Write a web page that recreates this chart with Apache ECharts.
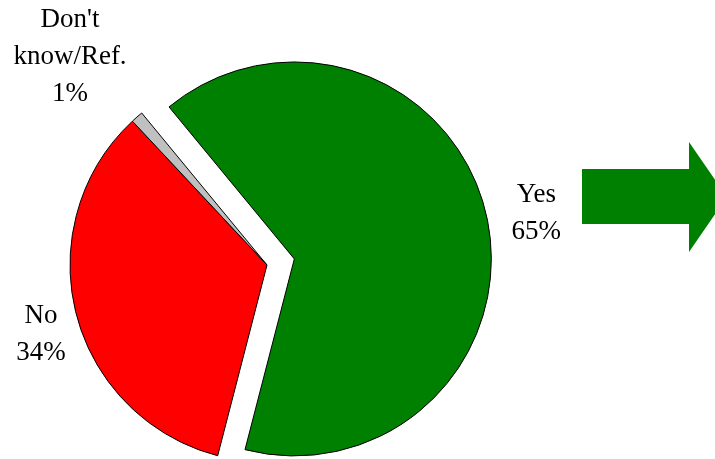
<!DOCTYPE html>
<html>
<head>
<meta charset="utf-8">
<script src="https://cdn.jsdelivr.net/npm/echarts@6/dist/echarts.min.js"></script>
<style>html,body{margin:0;padding:0;background:#fff}#chart{width:715px;height:459px}</style>
</head>
<body>
<div id="chart"></div>
<script>
var categories = ['Yes', 'No', "Don't know/Ref."];
var values = [65, 34, 1];
var labelLines = ['Yes\n65%', 'No\n34%', "Don't\nknow/Ref.\n1%"];
var colors = ['#008000', '#ff0000', '#c0c0c0'];
var labelPos = [[526, 208], [41, 334], [70, 57]];

var chart = echarts.init(document.getElementById('chart'), null, {renderer: 'canvas'});
chart.setOption({
  animation: false,
  backgroundColor: '#ffffff',
  graphic: [{
    type: 'polygon',
    shape: {points: [[582, 169], [689, 169], [689, 142], [727, 197], [689, 252], [689, 224], [582, 224]]},
    style: {fill: '#008000'}
  }],
  series: [{
    type: 'pie',
    center: [267, 265],
    radius: 197,
    startAngle: 129.5,
    clockwise: true,
    selectedMode: 'single',
    selectedOffset: 28,
    avoidLabelOverlap: false,
    emphasis: {disabled: true},
    itemStyle: {borderColor: '#000', borderWidth: 1},
    label: {
      show: true,
      position: 'outside',
      fontFamily: '"Liberation Serif", "Times New Roman", serif',
      fontSize: 27,
      lineHeight: 37,
      color: '#000',
      align: 'center',
      formatter: function (p) { return labelLines[p.dataIndex]; }
    },
    labelLine: {show: false},
    labelLayout: function (p) {
      return {x: labelPos[p.dataIndex][0], y: labelPos[p.dataIndex][1], align: 'center', verticalAlign: 'middle'};
    },
    data: categories.map(function (c, i) {
      return {name: c, value: values[i], selected: i === 0, itemStyle: {color: colors[i]}};
    })
  }]
});
</script>
</body>
</html>
